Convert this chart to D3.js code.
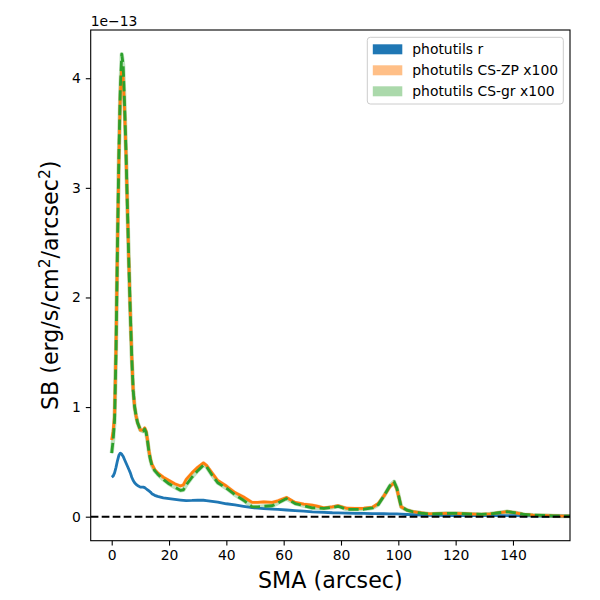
<!DOCTYPE html>
<html>
<head>
<meta charset="utf-8">
<script src="https://cdn.jsdelivr.net/npm/d3@7"></script>
<style>
  body { margin: 0; background: #fff; }
  text { font-family: 'DejaVu Sans', sans-serif; fill: #000; }
</style>
</head>
<body>
<script>
// semi-major axis (arcsec)
const sma = [0, 0.5, 1, 1.5, 2, 2.5, 3, 3.5, 4, 4.5, 5, 5.5, 6, 6.5, 7, 7.5, 8, 8.5, 9, 10,
             11, 11.5, 12, 12.5, 13, 13.5, 14, 15, 16, 18, 20, 22, 24, 25, 26, 28, 30, 32, 33, 35,
             37, 40, 43, 46, 49, 51, 53, 56, 58, 61, 64, 67, 70, 72, 74, 77, 79, 82, 85, 88,
             91, 93, 95, 97, 98.5, 99.5, 101, 103, 105, 108, 111, 114, 117, 120, 123, 126, 129, 132, 135, 138,
             141, 144, 147, 150, 154, 158, 160];

// surface brightness, in units of 1e-13
const sbR = [0.36, 0.37, 0.40, 0.45, 0.51, 0.56, 0.58, 0.57, 0.55, 0.52, 0.49, 0.46, 0.43, 0.40, 0.36, 0.33, 0.31, 0.295, 0.285, 0.27,
             0.27, 0.265, 0.255, 0.245, 0.235, 0.225, 0.21, 0.195, 0.185, 0.172, 0.165, 0.158, 0.152, 0.149, 0.146, 0.148, 0.152, 0.150, 0.147, 0.140,
             0.133, 0.118, 0.108, 0.095, 0.082, 0.078, 0.074, 0.069, 0.066, 0.061, 0.055, 0.050, 0.044, 0.042, 0.040, 0.036, 0.035, 0.033, 0.031, 0.030,
             0.028, 0.028, 0.027, 0.026, 0.026, 0.025, 0.023, 0.020, 0.018, 0.015, 0.013, 0.012, 0.011, 0.010, 0.010, 0.009, 0.009, 0.009, 0.010, 0.010,
             0.009, 0.008, 0.007, 0.006, 0.005, 0.005, 0.005];

const sbZP = [0.70, 0.78, 0.92, 1.55, 2.45, 3.25, 3.85, 4.10, 4.00, 3.70, 3.30, 2.80, 2.30, 1.85, 1.45, 1.15, 1.00, 0.92, 0.86, 0.79,
              0.79, 0.81, 0.78, 0.70, 0.60, 0.53, 0.48, 0.43, 0.40, 0.36, 0.33, 0.30, 0.28, 0.29, 0.34, 0.40, 0.45, 0.49, 0.47, 0.40,
              0.33, 0.28, 0.22, 0.18, 0.13, 0.13, 0.135, 0.13, 0.145, 0.175, 0.13, 0.115, 0.105, 0.095, 0.08, 0.09, 0.10, 0.077, 0.075, 0.077,
              0.086, 0.12, 0.19, 0.27, 0.31, 0.25, 0.09, 0.06, 0.046, 0.035, 0.025, 0.028, 0.031, 0.030, 0.027, 0.024, 0.022, 0.025, 0.035, 0.046,
              0.035, 0.020, 0.015, 0.012, 0.008, 0.006, 0.005];

const sbGR = [0.58, 0.70, 0.88, 1.50, 2.45, 3.30, 3.90, 4.22, 4.12, 3.75, 3.32, 2.80, 2.30, 1.85, 1.45, 1.15, 1.00, 0.92, 0.86, 0.79,
              0.78, 0.80, 0.77, 0.69, 0.59, 0.52, 0.47, 0.42, 0.39, 0.34, 0.30, 0.27, 0.24, 0.245, 0.29, 0.36, 0.42, 0.47, 0.46, 0.38,
              0.31, 0.26, 0.20, 0.15, 0.09, 0.09, 0.095, 0.10, 0.125, 0.165, 0.12, 0.10, 0.08, 0.08, 0.075, 0.085, 0.095, 0.068, 0.066, 0.068,
              0.08, 0.11, 0.19, 0.28, 0.32, 0.26, 0.09, 0.06, 0.045, 0.033, 0.024, 0.027, 0.030, 0.030, 0.027, 0.024, 0.022, 0.025, 0.036, 0.046,
              0.035, 0.020, 0.015, 0.012, 0.008, 0.006, 0.005];

const xTicks = [0, 20, 40, 60, 80, 100, 120, 140];
const yTicks = [0, 1, 2, 3, 4];
const legendLabels = ['photutils r', 'photutils CS-ZP x100', 'photutils CS-gr x100'];

const width = 600, height = 600;
const margin = { top: 30, right: 30, bottom: 59.3, left: 90.7 };
const innerW = width - margin.left - margin.right;
const innerH = height - margin.top - margin.bottom;

const svg = d3.select('body')
  .append('svg')
  .attr('width', width)
  .attr('height', height);

const x = d3.scaleLinear().domain([-7.33, 159.9]).range([0, innerW]);
const y = d3.scaleLinear().domain([-0.219, 4.44]).range([innerH, 0]);

const g = svg.append('g')
  .attr('transform', `translate(${margin.left},${margin.top})`);

g.append('clipPath').attr('id', 'clip')
  .append('rect').attr('width', innerW).attr('height', innerH);

const plot = g.append('g').attr('clip-path', 'url(#clip)');

const line = (vals) => d3.line()
  .x((d) => x(d))
  .y((d, i) => y(vals[i]))(sma);

// faint bands under the lines
plot.append('path').attr('d', line(sbZP))
  .attr('fill', 'none').attr('stroke', '#ff7f0e').attr('stroke-opacity', 0.25)
  .attr('stroke-width', 3.6).attr('stroke-linejoin', 'round');
plot.append('path').attr('d', line(sbGR))
  .attr('fill', 'none').attr('stroke', '#2ca02c').attr('stroke-opacity', 0.3)
  .attr('stroke-width', 4.2).attr('stroke-linejoin', 'round');

plot.append('path').attr('d', line(sbR))
  .attr('fill', 'none').attr('stroke', '#1f77b4')
  .attr('stroke-width', 2.8).attr('stroke-linejoin', 'round');
plot.append('path').attr('d', line(sbZP))
  .attr('fill', 'none').attr('stroke', '#ff7f0e')
  .attr('stroke-width', 2.8).attr('stroke-linejoin', 'round');
plot.append('path').attr('d', line(sbGR))
  .attr('fill', 'none').attr('stroke', '#2ca02c')
  .attr('stroke-width', 2.8).attr('stroke-dasharray', '10.3,4.4')
  .attr('stroke-linejoin', 'round');

// zero level
plot.append('line')
  .attr('x1', 0).attr('x2', innerW)
  .attr('y1', y(0)).attr('y2', y(0))
  .attr('stroke', '#000').attr('stroke-width', 2.1)
  .attr('stroke-dasharray', '7.7,3.3');

// axes
const xAxis = g.append('g')
  .attr('transform', `translate(0,${innerH})`)
  .call(d3.axisBottom(x).tickValues(xTicks).tickFormat(d3.format('d')).tickSize(4.9).tickPadding(4.9));
const yAxis = g.append('g')
  .call(d3.axisLeft(y).tickValues(yTicks).tickFormat(d3.format('d')).tickSize(4.9).tickPadding(4.9));

[xAxis, yAxis].forEach((ax) => {
  ax.select('.domain').remove();
  ax.selectAll('.tick line').attr('stroke', '#000').attr('stroke-width', 1.1);
  ax.selectAll('.tick text').style('font-family', "'DejaVu Sans', sans-serif").style('font-size', '13.9px');
});

g.append('rect')
  .attr('width', innerW).attr('height', innerH)
  .attr('fill', 'none').attr('stroke', '#000').attr('stroke-width', 1.1);

svg.append('text')
  .attr('x', margin.left).attr('y', 26)
  .style('font-size', '13.9px')
  .text('1e\u221213');

svg.append('text')
  .attr('x', margin.left + innerW / 2).attr('y', 588)
  .attr('text-anchor', 'middle')
  .style('font-size', '22.2px')
  .text('SMA (arcsec)');

const yl = svg.append('text')
  .attr('transform', `translate(58,${margin.top + innerH / 2}) rotate(-90)`)
  .attr('text-anchor', 'middle')
  .style('font-size', '22.2px');
yl.append('tspan').text('SB (erg/s/cm');
yl.append('tspan').attr('dy', -8).style('font-size', '15.5px').text('2');
yl.append('tspan').attr('dy', 8).text('/arcsec');
yl.append('tspan').attr('dy', -8).style('font-size', '15.5px').text('2');
yl.append('tspan').attr('dy', 8).text(')');

// legend
const legend = svg.append('g').attr('transform', 'translate(367.3,37.3)');
legend.append('rect')
  .attr('width', 196).attr('height', 66.7)
  .attr('rx', 3).attr('fill', '#fff').attr('fill-opacity', 0.8)
  .attr('stroke', '#ccc').attr('stroke-width', 1);

const patchColors = ['#1f77b4', '#ffbf87', '#abd9ab'];
legendLabels.forEach((label, i) => {
  const cy = 12 + i * 21;
  legend.append('rect')
    .attr('x', 5.5).attr('y', cy - 5)
    .attr('width', 29.5).attr('height', 10)
    .attr('fill', patchColors[i]);
  legend.append('text')
    .attr('x', 45).attr('y', cy + 5)
    .style('font-size', '13.9px')
    .text(label);
});
</script>
</body>
</html>
